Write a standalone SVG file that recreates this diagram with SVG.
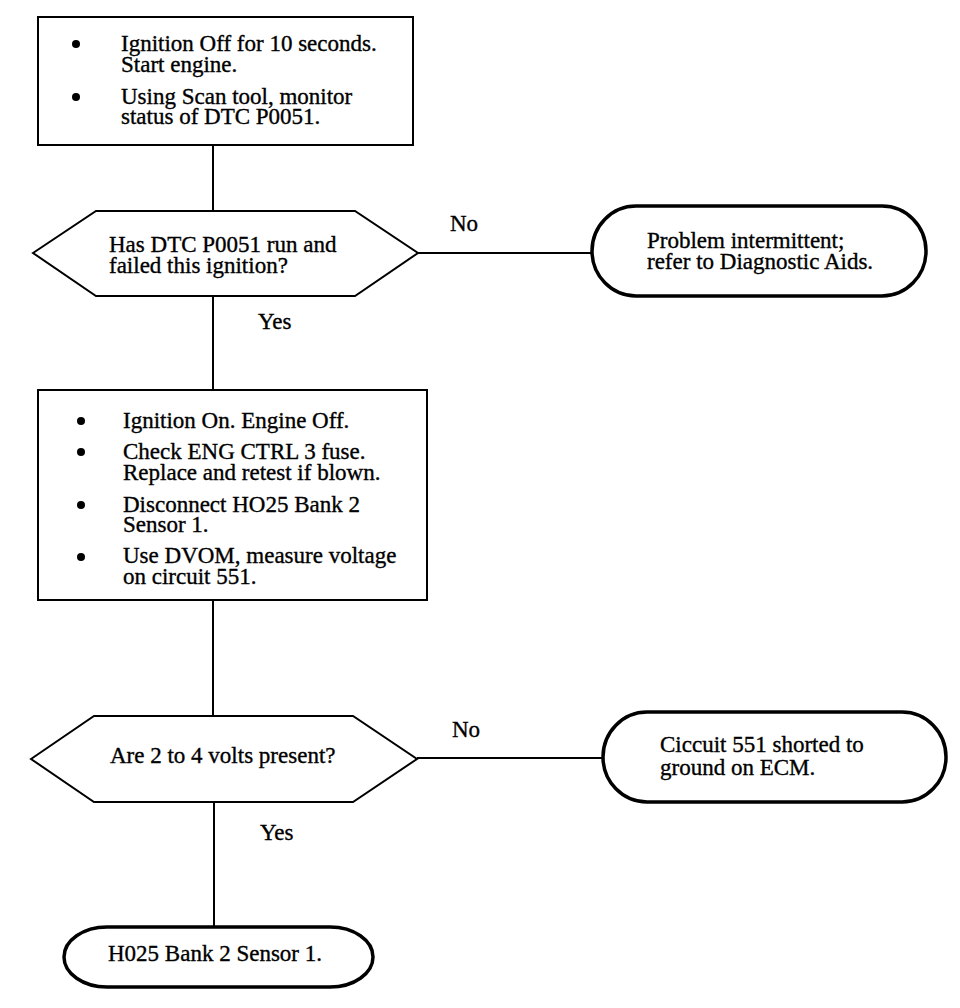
<svg xmlns="http://www.w3.org/2000/svg" width="960" height="1008" viewBox="0 0 960 1008">
<style>
text{font-family:"Liberation Serif","Times New Roman",serif;font-size:23px;fill:#000;stroke:#000;stroke-width:0.35}
.box{fill:#fff;stroke:#000;stroke-width:2}
.dec{fill:#fff;stroke:#000;stroke-width:2;stroke-linejoin:miter}
.term{fill:#fff;stroke:#000;stroke-width:3.5}
.conn line{stroke:#000;stroke-width:2}
.bul{fill:#000}
</style>
<rect width="960" height="1008" fill="#fff"/>
<g class="conn" id="connectors">
<line x1="213" y1="145" x2="213" y2="211"/>
<line x1="418" y1="253" x2="592" y2="253"/>
<line x1="213" y1="296" x2="213" y2="390"/>
<line x1="213" y1="600" x2="213" y2="716"/>
<line x1="417" y1="758" x2="603" y2="758"/>
<line x1="214" y1="802" x2="214" y2="927"/>
<text x="450" y="231">No</text>
<text x="258" y="329">Yes</text>
<text x="452" y="737">No</text>
<text x="260" y="840">Yes</text>
</g>
<g id="step1">
<rect class="box" x="38" y="17" width="375" height="128"/>
<circle class="bul" cx="76" cy="44" r="4"/>
<circle class="bul" cx="76" cy="97" r="4"/>
<text x="121" y="51">Ignition Off for 10 seconds.</text>
<text x="121" y="72">Start engine.</text>
<text x="121" y="104">Using Scan tool, monitor</text>
<text x="121" y="124">status of DTC P0051.</text>
</g>
<g id="decision1">
<polygon class="dec" points="33,253 96,211 355,211 418,253 355,296 96,296"/>
<text x="109" y="252">Has DTC P0051 run and</text>
<text x="109" y="273">failed this ignition?</text>
</g>
<g id="term1">
<rect class="term" x="592" y="206" width="334" height="90" rx="44" ry="45"/>
<text x="647" y="248">Problem intermittent;</text>
<text x="647" y="269">refer to Diagnostic Aids.</text>
</g>
<g id="step2">
<rect class="box" x="38" y="390" width="389" height="210"/>
<circle class="bul" cx="81" cy="421" r="4"/>
<circle class="bul" cx="81" cy="452" r="4"/>
<circle class="bul" cx="81" cy="505" r="4"/>
<circle class="bul" cx="81" cy="557" r="4"/>
<text x="123" y="428">Ignition On. Engine Off.</text>
<text x="123" y="459">Check ENG CTRL 3 fuse.</text>
<text x="123" y="480">Replace and retest if blown.</text>
<text x="123" y="512">Disconnect HO25 Bank 2</text>
<text x="123" y="532">Sensor 1.</text>
<text x="123" y="563">Use DVOM, measure voltage</text>
<text x="123" y="584">on circuit 551.</text>
</g>
<g id="decision2">
<polygon class="dec" points="31,759 94,716 353,716 417,759 353,802 94,802"/>
<text x="110" y="763">Are 2 to 4 volts present?</text>
</g>
<g id="term2">
<rect class="term" x="603" y="712" width="343" height="90" rx="44" ry="45"/>
<text x="660" y="752">Ciccuit 551 shorted to</text>
<text x="660" y="775">ground on ECM.</text>
</g>
<g id="term3">
<rect class="term" x="64" y="927" width="309" height="60" rx="43" ry="30"/>
<text x="108" y="961">H025 Bank 2 Sensor 1.</text>
</g>
</svg>
